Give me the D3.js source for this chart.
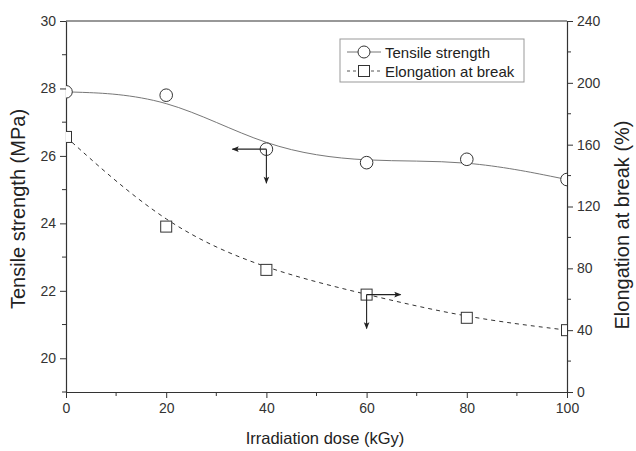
<!DOCTYPE html>
<html>
<head>
<meta charset="utf-8">
<script src="https://cdn.jsdelivr.net/npm/d3@7"></script>
<style>
  body { margin: 0; background: #fff; }
  svg { display: block; font-family: "Liberation Sans", Arial, sans-serif; }
</style>
</head>
<body>
<svg id="chart" width="636" height="451"></svg>
<script>
// Irradiation dose (kGy)
const doses = [0, 20, 40, 60, 80, 100];
// Tensile strength (MPa)
const tensile = [27.9, 27.8, 26.2, 25.8, 25.9, 25.3];
// Elongation at break (%)
const elongation = [165, 107, 79, 63, 48, 40];

const xTicks = [0, 20, 40, 60, 80, 100];
const leftTicks = [20, 22, 24, 26, 28, 30];
const rightTicks = [0, 40, 80, 120, 160, 200, 240];

const svg = d3.select("#chart");
const m = { left: 66, right: 567, top: 21, bottom: 392 };

const x = d3.scaleLinear().domain([0, 100]).range([m.left, m.right]);
const yL = d3.scaleLinear().domain([19, 30]).range([m.bottom, m.top]);
const yR = d3.scaleLinear().domain([0, 240]).range([m.bottom, m.top]);

const axisColor = "#333";
const tickText = "#333";

svg.append("defs").append("clipPath").attr("id", "plotClip")
  .append("rect")
  .attr("x", m.left).attr("y", m.top)
  .attr("width", m.right - m.left).attr("height", m.bottom - m.top);

const marker = svg.select("defs").append("marker")
  .attr("id", "arrow")
  .attr("viewBox", "0 0 10 10")
  .attr("refX", 9).attr("refY", 5)
  .attr("markerWidth", 9).attr("markerHeight", 7)
  .attr("markerUnits", "userSpaceOnUse")
  .attr("orient", "auto");
marker.append("path").attr("d", "M0,1 L10,5 L0,9 L2,5 Z").attr("fill", "#222");

// Minor ticks between the labelled ones
function minorTicks(g, scale, values, orient, len) {
  values.forEach(v => {
    const p = scale(v);
    if (orient === "bottom") g.append("line").attr("x1", p).attr("x2", p).attr("y1", 0).attr("y2", len);
    if (orient === "left") g.append("line").attr("y1", p).attr("y2", p).attr("x1", 0).attr("x2", -len);
    if (orient === "right") g.append("line").attr("y1", p).attr("y2", p).attr("x1", 0).attr("x2", len);
  });
  g.selectAll("line").attr("stroke", axisColor);
}

function styleAxis(g) {
  g.select(".domain").attr("stroke", axisColor).attr("stroke-width", 1.2);
  g.selectAll(".tick line").attr("stroke", axisColor);
  g.selectAll(".tick text").attr("fill", tickText).attr("font-size", "14px");
}

// Bottom axis
const gx = svg.append("g").attr("transform", `translate(0,${m.bottom})`)
  .call(d3.axisBottom(x).tickValues(xTicks).tickSize(6).tickSizeOuter(0).tickPadding(5));
styleAxis(gx);
minorTicks(gx.append("g"), x, [10, 30, 50, 70, 90], "bottom", 4);

// Left axis
const gl = svg.append("g").attr("transform", `translate(${m.left},0)`)
  .call(d3.axisLeft(yL).tickValues(leftTicks).tickSize(6).tickSizeOuter(0).tickPadding(4));
styleAxis(gl);
minorTicks(gl.append("g"), yL, [19, 21, 23, 25, 27, 29], "left", 4);

// Right axis
const gr = svg.append("g").attr("transform", `translate(${m.right},0)`)
  .call(d3.axisRight(yR).tickValues(rightTicks).tickSize(6).tickSizeOuter(0).tickPadding(4));
styleAxis(gr);
minorTicks(gr.append("g"), yR, [20, 60, 100, 140, 180, 220], "right", 4);

// Top frame
svg.append("line")
  .attr("x1", m.left).attr("x2", m.right).attr("y1", m.top).attr("y2", m.top)
  .attr("stroke", axisColor).attr("stroke-width", 1.2);

// Axis titles
svg.append("text")
  .attr("x", 325).attr("y", 444)
  .attr("text-anchor", "middle").attr("font-size", "16.5px").attr("fill", "#222")
  .text("Irradiation dose (kGy)");
svg.append("text")
  .attr("transform", "translate(25,209) rotate(-90)")
  .attr("text-anchor", "middle").attr("font-size", "20px").attr("fill", "#222")
  .text("Tensile strength (MPa)");
svg.append("text")
  .attr("transform", "translate(629,225) rotate(-90)")
  .attr("text-anchor", "middle").attr("font-size", "20px").attr("fill", "#222")
  .text("Elongation at break (%)");

// Series
const plot = svg.append("g").attr("clip-path", "url(#plotClip)");

const tsLine = d3.line().curve(d3.curveBasis).x((d, i) => x(doses[i])).y(d => yL(d));
const elLine = d3.line().curve(d3.curveBasis).x((d, i) => x(doses[i])).y(d => yR(d));

plot.append("path").datum(tensile).attr("d", tsLine)
  .attr("fill", "none").attr("stroke", "#777").attr("stroke-width", 1);
plot.append("path").datum(elongation).attr("d", elLine)
  .attr("fill", "none").attr("stroke", "#333").attr("stroke-width", 1)
  .attr("stroke-dasharray", "4,4");

plot.selectAll("circle.ts").data(tensile).join("circle")
  .attr("cx", (d, i) => x(doses[i])).attr("cy", d => yL(d)).attr("r", 6.3)
  .attr("fill", "#fff").attr("stroke", "#333").attr("stroke-width", 1);

const sq = 11;
plot.selectAll("rect.el").data(elongation).join("rect")
  .attr("x", (d, i) => x(doses[i]) - sq / 2).attr("y", d => yR(d) - sq / 2)
  .attr("width", sq).attr("height", sq)
  .attr("fill", "#fff").attr("stroke", "#333").attr("stroke-width", 1);

// Arrows pointing each series to its own axis
const a1x = x(doses[2]), a1y = yL(tensile[2]);
const a2x = x(doses[3]), a2y = yR(elongation[3]);
const arrows = [
  [a1x, a1y, a1x - 34, a1y],
  [a1x, a1y, a1x, a1y + 34],
  [a2x, a2y, a2x + 34, a2y],
  [a2x, a2y, a2x, a2y + 34]
];
svg.selectAll("line.arrow").data(arrows).join("line")
  .attr("x1", d => d[0]).attr("y1", d => d[1])
  .attr("x2", d => d[2]).attr("y2", d => d[3])
  .attr("stroke", "#222").attr("stroke-width", 1.1)
  .attr("marker-end", "url(#arrow)");

// Legend
const lg = svg.append("g");
lg.append("rect").attr("x", 340).attr("y", 39).attr("width", 184).attr("height", 43)
  .attr("fill", "#fff").attr("stroke", "#999").attr("stroke-width", 1);
const rows = [
  { label: "Tensile strength", y: 52, dash: null, stroke: "#777", shape: "circle" },
  { label: "Elongation at break", y: 71, dash: "3,3", stroke: "#555", shape: "square" }
];
rows.forEach(r => {
  lg.append("line").attr("x1", 347).attr("x2", 381).attr("y1", r.y).attr("y2", r.y)
    .attr("stroke", r.stroke).attr("stroke-width", 1)
    .attr("stroke-dasharray", r.dash);
  if (r.shape === "circle") {
    lg.append("circle").attr("cx", 364).attr("cy", r.y).attr("r", 6)
      .attr("fill", "#fff").attr("stroke", "#333");
  } else {
    lg.append("rect").attr("x", 364 - 5.5).attr("y", r.y - 5.5).attr("width", 11).attr("height", 11)
      .attr("fill", "#fff").attr("stroke", "#333");
  }
  lg.append("text").attr("x", 385).attr("y", r.y + 5.5)
    .attr("font-size", "15px").attr("fill", "#222").text(r.label);
});
</script>
</body>
</html>
